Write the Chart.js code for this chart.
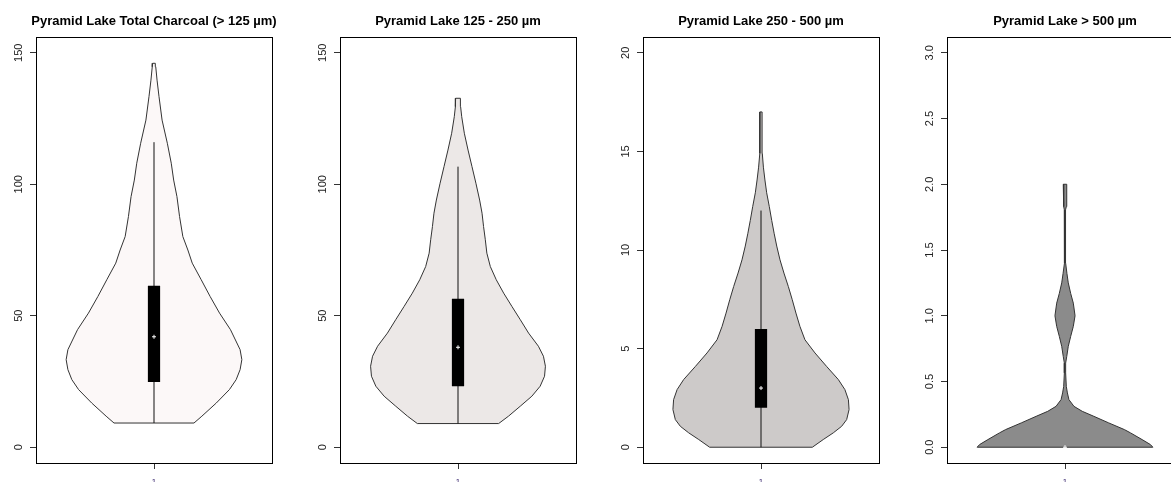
<!DOCTYPE html>
<html>
<head>
<meta charset="utf-8">
<script src="https://cdn.jsdelivr.net/npm/chart.js@4.4.0/dist/chart.umd.min.js"></script>
<style>
  html, body { margin: 0; padding: 0; background: #fff; }
  body { width: 1171px; height: 482px; overflow: hidden; position: relative; }
  canvas { position: absolute; top: 0; }
</style>
</head>
<body>
<canvas id="totalChart" width="290" height="482" style="left:0px"></canvas>
<canvas id="smallChart" width="290" height="482" style="left:304px"></canvas>
<canvas id="mediumChart" width="290" height="482" style="left:607px"></canvas>
<canvas id="largeChart" width="290" height="482" style="left:911px"></canvas>
<script>
// violin outlines: y level and half width (x units)
const totalLevels = [9.2, 11.8, 16.8, 21.9, 25.7, 29.5, 33.3, 37.1, 44.7, 51, 57.3, 63.7, 70, 75, 80.1, 87.7, 95.3, 101.6, 108, 115.6, 124.4, 133.3, 139.6, 144.7, 146];
const totalWidths = [0.183, 0.219, 0.285, 0.345, 0.376, 0.394, 0.402, 0.394, 0.35, 0.30, 0.257, 0.216, 0.175, 0.155, 0.132, 0.117, 0.105, 0.09, 0.079, 0.061, 0.037, 0.023, 0.014, 0.008, 0.006];
const totalBox = [9.2, 24.8, 42, 61.4, 116]; // lower whisker, q1, median, q3, upper whisker
const totalTicks = [0, 50, 100, 150];
const totalTickLabels = ['0', '50', '100', '150'];

const smallLevels = [9, 11.8, 15.6, 19.4, 23.2, 27, 30.8, 34.6, 38.4, 43.4, 48.5, 53.5, 58.6, 63.7, 68.7, 73.8, 78.9, 83.9, 89, 94, 100.4, 106.7, 113, 119.4, 125.7, 129.5, 132.7];
const smallWidths = [0.186, 0.231, 0.285, 0.338, 0.376, 0.396, 0.4, 0.391, 0.368, 0.323, 0.285, 0.247, 0.209, 0.175, 0.148, 0.132, 0.125, 0.117, 0.11, 0.099, 0.082, 0.064, 0.046, 0.029, 0.017, 0.012, 0.011];
const smallBox = [9, 23.2, 38, 56.5, 106.7];
const smallTicks = [0, 50, 100, 150];
const smallTickLabels = ['0', '50', '100', '150'];

const mediumLevels = [0, 0.39, 0.73, 1.06, 1.4, 1.91, 2.41, 2.92, 3.43, 4.1, 4.78, 5.45, 6.13, 6.8, 7.48, 8.15, 8.83, 9.5, 10.2, 10.85, 11.5, 12.2, 12.9, 13.55, 14.2, 14.9, 15.6, 17];
const mediumWidths = [0.235, 0.285, 0.331, 0.369, 0.392, 0.403, 0.4, 0.384, 0.354, 0.3, 0.247, 0.201, 0.178, 0.16, 0.143, 0.125, 0.105, 0.087, 0.072, 0.06, 0.049, 0.038, 0.026, 0.018, 0.011, 0.006, 0.005, 0.005];
const mediumBox = [0, 2, 3, 6, 12];
const mediumTicks = [0, 5, 10, 15, 20];
const mediumTickLabels = ['0', '5', '10', '15', '20'];

const largeLevels = [0, 0.02, 0.058, 0.109, 0.134, 0.185, 0.235, 0.273, 0.311, 0.362, 0.413, 0.463, 0.565, 0.64, 0.69, 0.767, 0.843, 0.919, 1.0, 1.096, 1.17, 1.25, 1.32, 1.4, 1.63, 1.805, 1.83, 2.0];
const largeWidths = [0.402, 0.391, 0.353, 0.3, 0.272, 0.2, 0.132, 0.079, 0.041, 0.018, 0.011, 0.006, 0.003, 0.003, 0.008, 0.015, 0.026, 0.038, 0.046, 0.038, 0.026, 0.015, 0.009, 0.003, 0.002, 0.003, 0.006, 0.008];
const largeBox = [0, 0, 0, 0, 0];
const largeTicks = [0, 0.5, 1, 1.5, 2, 2.5, 3];
const largeTickLabels = ['0.0', '0.5', '1.0', '1.5', '2.0', '2.5', '3.0'];

const categoryTicks = [1];
const categoryLabels = ['1'];

const BOX_HALF = 0.028;
const FONT = '"Liberation Sans", Arial, sans-serif';

function outline(levels, widths) {
  const right = levels.map((y, i) => ({ x: 1 + widths[i], y }));
  const left = levels.map((y, i) => ({ x: 1 - widths[i], y })).reverse();
  return [...right, ...left, right[0]];
}

function boxShape(stats) {
  const [, q1, , q3] = stats;
  return [
    { x: 1 - BOX_HALF, y: q1 }, { x: 1 + BOX_HALF, y: q1 },
    { x: 1 + BOX_HALF, y: q3 }, { x: 1 - BOX_HALF, y: q3 },
    { x: 1 - BOX_HALF, y: q1 }
  ];
}

// R style frame, title and rotated axis labels
const rDecor = {
  id: 'rDecor',
  afterDraw(chart, args, opts) {
    const { ctx, chartArea: a, scales } = chart;
    ctx.save();
    ctx.strokeStyle = '#000';
    ctx.lineWidth = 1;
    ctx.strokeRect(Math.round(a.left) + 0.5, Math.round(a.top) + 0.5,
      Math.round(a.right - a.left), Math.round(a.bottom - a.top));

    ctx.fillStyle = '#000';
    ctx.font = 'bold 13px ' + FONT;
    ctx.textAlign = 'center';
    ctx.textBaseline = 'alphabetic';
    ctx.fillText(opts.title, (a.left + a.right) / 2, 25);

    ctx.font = '11px ' + FONT;
    ctx.fillStyle = '#222';
    opts.yTicks.forEach((v, i) => {
      const py = scales.y.getPixelForValue(v);
      ctx.save();
      ctx.translate(a.left - 14, py);
      ctx.rotate(-Math.PI / 2);
      ctx.fillText(opts.yLabels[i], 0, 0);
      ctx.restore();
    });

    ctx.fillStyle = '#33206a';
    ctx.font = '8px ' + FONT;
    ctx.textBaseline = 'top';
    categoryTicks.forEach((v, i) => {
      ctx.fillText(categoryLabels[i], scales.x.getPixelForValue(v), a.bottom + 15);
    });
    ctx.restore();
  }
};

function makeViolin(id, title, levels, widths, stats, ticks, tickLabels, yMin, yMax, fillColor) {
  const [lower, , median, , upper] = stats;
  new Chart(document.getElementById(id), {
    type: 'scatter',
    data: {
      datasets: [
        {
          data: [{ x: 1, y: median }],
          pointStyle: 'cross',
          pointRadius: 2,
          borderColor: '#fff',
          borderWidth: 1,
          order: 0
        },
        {
          data: boxShape(stats),
          showLine: true,
          fill: 'shape',
          backgroundColor: '#000',
          borderWidth: 0,
          pointRadius: 0,
          order: 1
        },
        {
          data: [{ x: 1, y: lower }, { x: 1, y: upper }],
          showLine: true,
          borderColor: '#111',
          borderWidth: 1,
          pointRadius: 0,
          order: 2
        },
        {
          data: outline(levels, widths),
          showLine: true,
          fill: 'shape',
          backgroundColor: fillColor,
          borderColor: '#333',
          borderWidth: 1,
          pointRadius: 0,
          tension: 0,
          order: 3
        }
      ]
    },
    options: {
      responsive: false,
      animation: false,
      events: [],
      layout: { padding: { top: 37, right: 18, left: 0, bottom: 0 } },
      plugins: {
        legend: { display: false },
        tooltip: { enabled: false },
        rDecor: { title, yTicks: ticks, yLabels: tickLabels }
      },
      scales: {
        x: {
          type: 'linear',
          min: 0.46,
          max: 1.54,
          afterBuildTicks: s => { s.ticks = categoryTicks.map(v => ({ value: v })); },
          afterFit: s => { s.height = 19; },
          ticks: { display: false },
          border: { display: false },
          grid: { drawOnChartArea: false, drawTicks: true, tickLength: 6, color: '#333' }
        },
        y: {
          type: 'linear',
          min: yMin,
          max: yMax,
          afterBuildTicks: s => { s.ticks = ticks.map(v => ({ value: v })); },
          afterFit: s => { s.width = 36; },
          ticks: { display: false },
          border: { display: false },
          grid: { drawOnChartArea: false, drawTicks: true, tickLength: 6, color: '#333' }
        }
      }
    },
    plugins: [rDecor]
  });
}

makeViolin('totalChart', 'Pyramid Lake Total Charcoal (> 125 µm)', totalLevels, totalWidths, totalBox,
  totalTicks, totalTickLabels, -6, 156, '#FCF8F8');
makeViolin('smallChart', 'Pyramid Lake 125 - 250 µm', smallLevels, smallWidths, smallBox,
  smallTicks, smallTickLabels, -6, 156, '#ECE8E7');
makeViolin('mediumChart', 'Pyramid Lake 250 - 500 µm', mediumLevels, mediumWidths, mediumBox,
  mediumTicks, mediumTickLabels, -0.8, 20.8, '#CDCAC9');
makeViolin('largeChart', 'Pyramid Lake > 500 µm', largeLevels, largeWidths, largeBox,
  largeTicks, largeTickLabels, -0.12, 3.12, '#8B8B8B');
</script>
</body>
</html>
